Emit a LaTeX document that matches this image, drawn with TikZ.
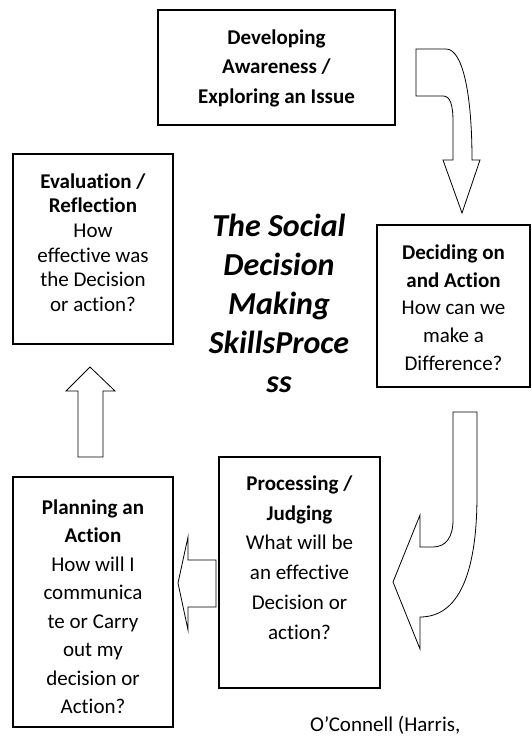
\documentclass[tikz,border=0pt]{standalone}
\usepackage{fontspec}
\setmainfont{Carlito}[Ligatures=NoCommon]
\usetikzlibrary{calc}
\begin{document}
\begin{tikzpicture}[x=1pt,y=-1pt,
  stage/.style={draw=black, line width=1.3pt, fill=white, inner sep=0pt},
  stagetext/.style={anchor=north, align=center, inner sep=0pt},
  blockarrow/.style={draw=black, line width=0.8pt, fill=white, line join=miter}]
\useasboundingbox (0,0) rectangle (532,738);
\fill[white] (0,0) rectangle (532,738);

% stage boxes
\node[stage, minimum width=237pt, minimum height=115pt] (dev)  at (276.5,67.5) {};
\node[stage, minimum width=160pt, minimum height=190pt] (eval) at (93,249) {};
\node[stage, minimum width=153pt, minimum height=162pt] (dec)  at (453.5,306) {};
\node[stage, minimum width=161pt, minimum height=231pt] (proc) at (299.5,572.5) {};
\node[stage, minimum width=160pt, minimum height=250pt] (plan) at (93,602) {};

% stage texts
\node[stagetext, font=\fontsize{21}{29.5}\selectfont] (devtxt) at ($(dev.north)+(0,20)$)
  {\textbf{Developing}\\\textbf{Awareness /}\\\textbf{Exploring an Issue}};
\node[stagetext, font=\fontsize{21}{24.6}\selectfont] (evaltxt) at ($(eval.north)+(0,20)$)
  {\textbf{Evaluation /}\\\textbf{Reflection}\\How\\effective was\\the Decision\\or action?};
\node[stagetext, font=\fontsize{21}{27.8}\selectfont] (dectxt) at ($(dec.north)+(0,20)$)
  {\textbf{Deciding on}\\\textbf{and Action}\\How can we\\make a\\Difference?};
\node[stagetext, font=\fontsize{21}{29.8}\selectfont] (proctxt) at ($(proc.north)+(0,19)$)
  {\textbf{Processing /}\\\textbf{Judging}\\What will be\\an effective\\Decision or\\action?};
\node[stagetext, font=\fontsize{21}{28.5}\selectfont] (plantxt) at ($(plan.north)+(0,23)$)
  {\textbf{Planning an}\\\textbf{Action}\\How will I\\communica\\te or Carry\\out my\\decision or\\Action?};

% title in the middle
\node[stagetext, font=\fontsize{32}{39}\selectfont\bfseries\itshape] (title) at (279,214)
  {The Social\\Decision\\Making\\SkillsProce\\ss};

% block arrows between the stages
\draw[blockarrow] (416,49) -- (446,49) .. controls (463,49) and (472,95) .. (472,160)
  -- (480,160) -- (462,213) -- (443,160) -- (453,160) -- (453,122)
  .. controls (453,104) and (450,96) .. (443,96) -- (416,96) -- cycle;
\draw[blockarrow] (453,412) -- (477,412) -- (477,495) .. controls (477,575) and (458,617) .. (420,617)
  -- (420,649) -- (393,582) -- (420,515) -- (420,547) -- (433,547)
  .. controls (446,547) and (453,537) .. (453,520) -- cycle;
\draw[blockarrow] (216,560) -- (188,560) -- (188,537) -- (178,583) -- (188,630)
  -- (188,607) -- (216,607) -- cycle;
\draw[blockarrow] (78,457) -- (78,391) -- (66,391) -- (90,367) -- (115,391)
  -- (103,391) -- (103,457) -- cycle;

% source line
\node[anchor=base west, inner sep=0pt, font=\fontsize{21}{25}\selectfont] (cite) at (310,731.5)
  {O’Connell (Harris,};
\end{tikzpicture}
\end{document}
